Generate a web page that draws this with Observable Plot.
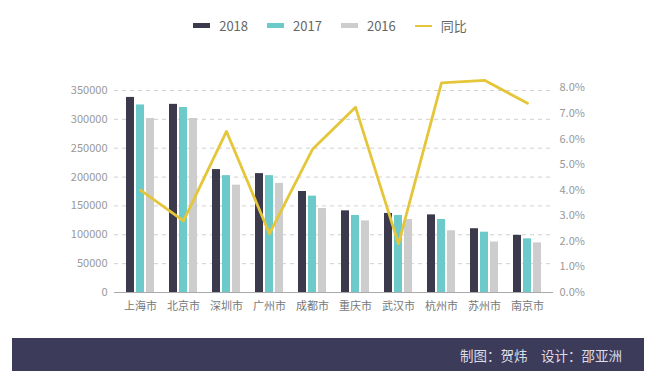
<!DOCTYPE html>
<html><head><meta charset="utf-8">
<script src="https://cdn.jsdelivr.net/npm/d3@7"></script>
<script src="https://cdn.jsdelivr.net/npm/@observablehq/plot@0.6"></script>
<style>
body{margin:0;background:#fff;font-family:"Noto Sans CJK SC","Noto Sans",sans-serif;width:660px;height:380px;overflow:hidden;position:relative}
#legend{position:absolute;top:16px;left:0;width:660px;display:flex;justify-content:center;align-items:center;font-size:13px;color:#666;gap:19px}
#legend .it{display:flex;align-items:center;gap:9px}
#legend .sw{width:17px;height:5px}
#legend .ln{width:17px;height:2px}
#chart{position:absolute;top:52px;left:0}
#footer{position:absolute;top:338px;left:12px;width:632px;height:33px;background:#3d3b5a;color:#dcdce4;font-size:13.5px;display:flex;align-items:center;justify-content:flex-end;box-sizing:border-box;padding-right:22px}
</style></head>
<body>
<div id="legend"></div>
<div id="chart"></div>
<div id="footer">制图：贺炜　设计：邵亚洲</div>
<script>
const cities = ["上海市","北京市","深圳市","广州市","成都市","重庆市","武汉市","杭州市","苏州市","南京市"];
const v2018 = [338000,326000,213000,206000,175000,141500,137000,134500,110500,99000];
const v2017 = [325000,320500,202500,202500,167000,133500,133500,126500,104500,93000];
const v2016 = [301500,301500,186000,189000,145500,124000,126500,107000,87500,86000];
const yoy = [0.040,0.028,0.063,0.023,0.056,0.0725,0.019,0.082,0.083,0.074];
const leftTicks = [0,50000,100000,150000,200000,250000,300000,350000];
const pctTicks = [0,0.01,0.02,0.03,0.04,0.05,0.06,0.07,0.08];
const seriesNames = ["2018","2017","2016","同比"];
const colors = ["#3b3a4c","#6ccbca","#cdcdcd","#e5c63a"];

const K = 4.43e6; // right-axis (percent) to left-axis scale ratio
const rows = cities.map((c,i)=>({city:c,a:v2018[i],b:v2017[i],c:v2016[i],p:yoy[i]}));

const lg = document.getElementById("legend");
seriesNames.forEach((n,i)=>{
  const it=document.createElement("div");it.className="it";
  const sw=document.createElement("div");sw.className=i<3?"sw":"ln";sw.style.background=colors[i];
  const t=document.createElement("span");t.textContent=n;
  it.appendChild(sw);it.appendChild(t);lg.appendChild(it);
});

const plot = Plot.plot({
  width:660, height:280,
  marginLeft:114, marginRight:107, marginTop:38, marginBottom:40,
  style:{fontFamily:'"Noto Sans CJK SC","Noto Sans",sans-serif',fontSize:"11px",background:"transparent",color:"#999"},
  x:{domain:cities, paddingInner:0.82, paddingOuter:0.41, label:null},
  y:{domain:[0,350000], label:null},
  marks:[
    Plot.gridY(leftTicks.slice(1),{stroke:"#d0d0d0",strokeOpacity:1,strokeDasharray:"4,4"}),
    Plot.barY(rows,{x:"city",y:"a",fill:colors[0],dx:-10}),
    Plot.barY(rows,{x:"city",y:"b",fill:colors[1]}),
    Plot.barY(rows,{x:"city",y:"c",fill:colors[2],dx:10}),
    Plot.ruleY([0],{stroke:"#aaa"}),
    Plot.line(rows,{x:"city",y:d=>d.p*K,stroke:colors[3],strokeWidth:2.8}),
    Plot.axisY({ticks:leftTicks,tickSize:0,tickPadding:7,fill:"#999",fontSize:11,label:null,tickFormat:d=>String(d)}),
    Plot.axisY({anchor:"right",ticks:pctTicks.map(p=>p*K),tickSize:0,tickPadding:6,fill:"#999",fontSize:11,label:null,tickFormat:d=>(d/K*100).toFixed(1)+"%"}),
    Plot.axisX({tickSize:0,tickPadding:10,fill:"#777",fontSize:11,label:null})
  ]
});
document.getElementById("chart").appendChild(plot);
</script>
</body></html>
